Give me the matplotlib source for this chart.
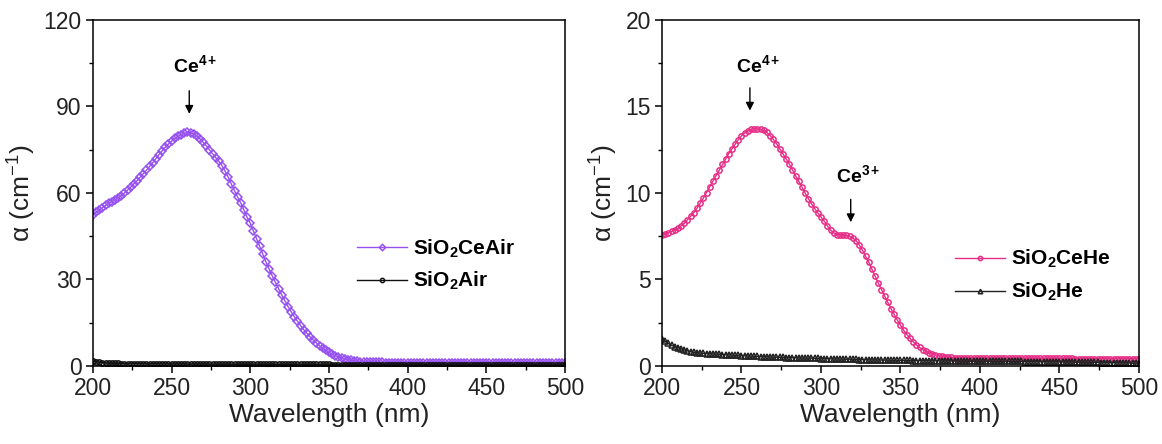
import numpy as np
import matplotlib
matplotlib.use("Agg")
import matplotlib.pyplot as plt
from matplotlib.ticker import MultipleLocator

plt.rcParams['font.family'] = ['Liberation Sans', 'DejaVu Sans']
plt.rcParams['mathtext.fontset'] = 'custom'
plt.rcParams['mathtext.rm'] = 'Liberation Sans'
plt.rcParams['mathtext.it'] = 'Liberation Sans:italic'
plt.rcParams['mathtext.bf'] = 'Liberation Sans:bold'

# wavelength grid, 200..500 nm every 2 nm
wavelength = np.arange(200, 501, 2)

# left panel: annealed in air
sio2_ce_air = [
    52.5, 53.3, 54.1, 54.9, 55.7, 56.4, 57.0, 57.6, 58.3, 59.1,
    60.0, 61.0, 62.0, 63.2, 64.3, 65.5, 66.7, 67.9, 69.2, 70.5,
    71.9, 73.3, 74.6, 75.9, 77.0, 78.0, 78.9, 79.6, 80.2, 80.7,
    81.0, 80.9, 80.5, 79.8, 78.8, 77.6, 76.4, 75.0, 73.6, 72.3,
    71.0, 69.5, 67.5, 65.5, 63.0, 60.8, 58.5, 56.5, 54.0, 51.5,
    49.5, 46.8, 44.2, 41.5, 38.8, 36.0, 33.6, 31.2, 29.0, 26.8,
    24.6, 22.6, 20.6, 18.8, 17.1, 15.5, 14.0, 12.6, 11.3, 10.1,
    9.0, 8.0, 7.0, 6.2, 5.4, 4.7, 4.1, 3.6, 3.1, 2.7,
    2.5, 2.2, 2.0, 1.8, 1.65, 1.55, 1.45, 1.38, 1.32, 1.28,
    1.25, 1.23, 1.22, 1.21, 1.2, 1.2, 1.2, 1.2, 1.2, 1.2,
    1.2, 1.2, 1.2, 1.2, 1.2, 1.2, 1.2, 1.2, 1.2, 1.2,
    1.2, 1.2, 1.2, 1.2, 1.2, 1.2, 1.2, 1.2, 1.2, 1.2,
    1.2, 1.2, 1.2, 1.2, 1.2, 1.2, 1.2, 1.2, 1.2, 1.2,
    1.2, 1.2, 1.2, 1.2, 1.2, 1.2, 1.2, 1.2, 1.2, 1.2,
    1.2, 1.2, 1.2, 1.2, 1.2, 1.2, 1.2, 1.2, 1.2, 1.2,
    1.2,
]
sio2_air = [
    1.7, 1.5, 1.3, 1.15, 1.05, 0.98, 0.93, 0.9, 0.87, 0.85,
    0.83, 0.82, 0.81, 0.8, 0.79, 0.78, 0.77, 0.76, 0.75, 0.74,
    0.73, 0.72, 0.72, 0.71, 0.7, 0.7, 0.69, 0.69, 0.68, 0.68,
    0.67, 0.67, 0.66, 0.66, 0.65, 0.65, 0.64, 0.64, 0.63, 0.63,
    0.62, 0.62, 0.62, 0.61, 0.61, 0.6, 0.6, 0.6, 0.59, 0.59,
    0.59, 0.58, 0.58, 0.58, 0.57, 0.57, 0.57, 0.56, 0.56, 0.56,
    0.55, 0.55, 0.55, 0.55, 0.54, 0.54, 0.54, 0.54, 0.53, 0.53,
    0.53, 0.53, 0.52, 0.52, 0.52, 0.52, 0.51, 0.51, 0.51, 0.51,
    0.5, 0.5, 0.5, 0.5, 0.5, 0.49, 0.49, 0.49, 0.49, 0.49,
    0.48, 0.48, 0.48, 0.48, 0.48, 0.47, 0.47, 0.47, 0.47, 0.47,
    0.47, 0.46, 0.46, 0.46, 0.46, 0.46, 0.46, 0.45, 0.45, 0.45,
    0.45, 0.45, 0.45, 0.44, 0.44, 0.44, 0.44, 0.44, 0.44, 0.44,
    0.43, 0.43, 0.43, 0.43, 0.43, 0.43, 0.43, 0.42, 0.42, 0.42,
    0.42, 0.42, 0.42, 0.42, 0.41, 0.41, 0.41, 0.41, 0.41, 0.41,
    0.41, 0.4, 0.4, 0.4, 0.4, 0.4, 0.4, 0.4, 0.4, 0.4,
    0.4,
]

# right panel: annealed in helium
sio2_ce_he = [
    7.6, 7.65, 7.7, 7.78, 7.86, 7.95, 8.1, 8.25, 8.45, 8.65,
    8.87, 9.12, 9.4, 9.7, 10.02, 10.35, 10.68, 11.0, 11.32, 11.65,
    11.97, 12.27, 12.55, 12.82, 13.07, 13.3, 13.47, 13.6, 13.68, 13.71,
    13.7, 13.68, 13.62, 13.5, 13.32, 13.1, 12.85, 12.57, 12.28, 11.98,
    11.68, 11.35, 11.0, 10.68, 10.35, 10.0, 9.68, 9.38, 9.1, 8.85,
    8.62, 8.38, 8.1, 7.85, 7.7, 7.6, 7.57, 7.55, 7.55, 7.5,
    7.4, 7.25, 7.0, 6.7, 6.35, 6.0, 5.6, 5.2, 4.8, 4.42,
    4.05, 3.68, 3.32, 2.98, 2.65, 2.35, 2.07, 1.82, 1.6, 1.4,
    1.22, 1.07, 0.95, 0.85, 0.77, 0.7, 0.64, 0.6, 0.56, 0.53,
    0.51, 0.5, 0.49, 0.48, 0.48, 0.47, 0.47, 0.46, 0.46, 0.46,
    0.45, 0.45, 0.45, 0.45, 0.45, 0.45, 0.45, 0.45, 0.45, 0.45,
    0.44, 0.44, 0.44, 0.44, 0.44, 0.44, 0.44, 0.44, 0.44, 0.44,
    0.44, 0.44, 0.44, 0.44, 0.44, 0.44, 0.44, 0.44, 0.44, 0.44,
    0.43, 0.43, 0.43, 0.43, 0.43, 0.43, 0.43, 0.43, 0.43, 0.43,
    0.43, 0.43, 0.43, 0.43, 0.43, 0.43, 0.43, 0.43, 0.43, 0.43,
    0.43,
]
sio2_he = [
    1.55, 1.42, 1.3, 1.2, 1.12, 1.06, 0.99, 0.93, 0.88, 0.83,
    0.79, 0.77, 0.75, 0.73, 0.72, 0.71, 0.7, 0.69, 0.68, 0.66,
    0.65, 0.64, 0.63, 0.62, 0.61, 0.6, 0.59, 0.58, 0.57, 0.56,
    0.55, 0.54, 0.54, 0.53, 0.52, 0.51, 0.51, 0.5, 0.5, 0.49,
    0.48, 0.48, 0.47, 0.47, 0.46, 0.46, 0.45, 0.45, 0.44, 0.44,
    0.43, 0.43, 0.42, 0.42, 0.41, 0.41, 0.4, 0.4, 0.39, 0.39,
    0.38, 0.38, 0.37, 0.37, 0.36, 0.36, 0.35, 0.35, 0.35, 0.34,
    0.34, 0.34, 0.33, 0.33, 0.33, 0.32, 0.32, 0.32, 0.32, 0.31,
    0.31, 0.31, 0.31, 0.3, 0.3, 0.3, 0.3, 0.3, 0.29, 0.29,
    0.29, 0.29, 0.29, 0.29, 0.29, 0.28, 0.28, 0.28, 0.28, 0.28,
    0.28, 0.28, 0.27, 0.27, 0.27, 0.27, 0.27, 0.27, 0.26, 0.26,
    0.26, 0.26, 0.26, 0.26, 0.25, 0.25, 0.25, 0.25, 0.25, 0.25,
    0.24, 0.24, 0.24, 0.24, 0.24, 0.23, 0.23, 0.23, 0.23, 0.23,
    0.22, 0.22, 0.22, 0.22, 0.21, 0.21, 0.21, 0.21, 0.2, 0.2,
    0.2, 0.19, 0.19, 0.19, 0.18, 0.18, 0.17, 0.17, 0.16, 0.16,
    0.14,
]

purple = '#9650f0'
pink = '#e62e86'
txt = '#222222'

fig = plt.figure(figsize=(11.62, 4.44), dpi=100)
ax1 = fig.add_axes([0.080, 0.1757, 0.4062, 0.7793])
ax2 = fig.add_axes([0.5697, 0.1757, 0.4105, 0.7793])


def style(ax, ymax, ymaj):
    ax.set_xlim(200, 500)
    ax.set_ylim(0, ymax)
    ax.xaxis.set_major_locator(MultipleLocator(50))
    ax.xaxis.set_minor_locator(MultipleLocator(25))
    ax.yaxis.set_major_locator(MultipleLocator(ymaj))
    ax.yaxis.set_minor_locator(MultipleLocator(ymaj / 2))
    ax.tick_params(which='major', direction='out', length=5, width=1.1,
                   labelsize=16.5, labelcolor=txt, pad=3)
    ax.tick_params(which='minor', direction='out', length=3, width=1.0)
    for s in ax.spines.values():
        s.set_linewidth(1.1)
    ax.set_xlabel('Wavelength (nm)', fontsize=19, color=txt, labelpad=2)
    ax.set_ylabel(r'α (cm$^{-1}$)', fontsize=19, color=txt, labelpad=4)


arrow = dict(arrowstyle='-|>', color='k', lw=1, mutation_scale=12)
legend_kw = dict(loc='center left', frameon=False, fontsize=15,
                 handlelength=2.4, handletextpad=0.3, labelspacing=0.5,
                 markerscale=0.8, borderpad=0, borderaxespad=0)

# left
ax1.plot(wavelength, sio2_ce_air, '-D', color=purple, lw=1, ms=4,
         mfc='none', mew=1.1, label=r'$\mathbf{SiO_2CeAir}$')
ax1.plot(wavelength, sio2_air, '-o', color='#111111', lw=1, ms=3.8,
         mfc='none', mew=1.1, label=r'$\mathbf{SiO_2Air}$')
style(ax1, 120, 30)
ax1.text(251, 102, r'$\mathbf{Ce^{4+}}$', ha='left', va='baseline', fontsize=14)
ax1.annotate('', xy=(261.2, 86.5), xytext=(261.2, 96.4), arrowprops=arrow)
ax1.legend(bbox_to_anchor=(0.559, 0.292), **legend_kw)

# right
ax2.plot(wavelength, sio2_ce_he, '-o', color=pink, lw=1, ms=3.8,
         mfc='none', mew=1.1, label=r'$\mathbf{SiO_2CeHe}$')
ax2.plot(wavelength, sio2_he, '-^', color='#222222', lw=1, ms=4,
         mfc='none', mew=1.1, label=r'$\mathbf{SiO_2He}$')
style(ax2, 20, 5)
ax2.text(246.5, 17.0, r'$\mathbf{Ce^{4+}}$', ha='left', va='baseline', fontsize=14)
ax2.annotate('', xy=(255.3, 14.6), xytext=(255.3, 16.24), arrowprops=arrow)
ax2.text(309.4, 10.65, r'$\mathbf{Ce^{3+}}$', ha='left', va='baseline', fontsize=14)
ax2.annotate('', xy=(318.7, 8.15), xytext=(318.7, 9.79), arrowprops=arrow)
ax2.legend(bbox_to_anchor=(0.614, 0.261), **legend_kw)

fig.savefig('out.png', dpi=100)
